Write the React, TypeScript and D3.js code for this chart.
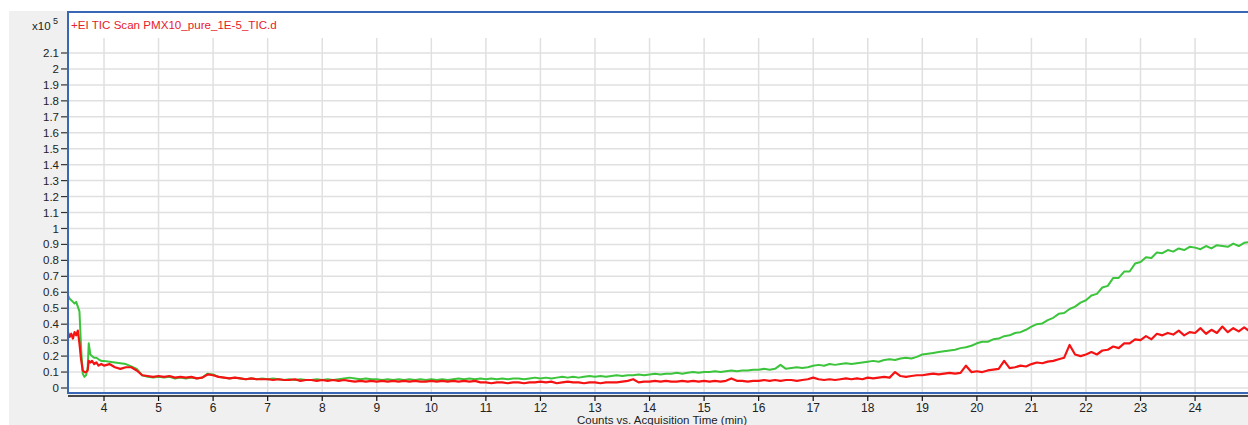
import React from 'react'
import * as d3 from 'd3'

// TIC traces, intensity in units of 1e5 counts

// fine sampling for the injection region
const headTimes = [3.34, 3.37, 3.4, 3.43, 3.46, 3.49, 3.52, 3.55, 3.58, 3.61, 3.64, 3.67, 3.7, 3.72, 3.75, 3.78, 3.82, 3.86, 3.9, 3.95]
const greenHead = [0.58, 0.56, 0.55, 0.54, 0.53, 0.54, 0.51, 0.48, 0.25, 0.09, 0.07, 0.08, 0.12, 0.28, 0.21, 0.2, 0.19, 0.19, 0.18, 0.17]
const redHead = [0.35, 0.32, 0.34, 0.31, 0.35, 0.33, 0.36, 0.28, 0.18, 0.11, 0.1, 0.1, 0.11, 0.17, 0.16, 0.17, 0.15, 0.16, 0.14, 0.15]

// 4.0 .. 25.0 min, every 0.1 min
const bodyStart = 4.0
const bodyStep = 0.1
const greenBody = [
  0.17, 0.165, 0.16, 0.155, 0.15, 0.135, 0.12, 0.08, 0.07, 0.065,
  0.07, 0.065, 0.07, 0.06, 0.065, 0.06, 0.065, 0.06, 0.065, 0.09,
  0.085, 0.07, 0.065, 0.06, 0.065, 0.06, 0.055, 0.06, 0.055, 0.06,
  0.055, 0.06, 0.055, 0.05, 0.055, 0.05, 0.055, 0.05, 0.05, 0.055,
  0.05, 0.055, 0.05, 0.055, 0.06, 0.065, 0.06, 0.055, 0.06, 0.055,
  0.055, 0.05, 0.055, 0.05, 0.055, 0.05, 0.055, 0.05, 0.055, 0.05,
  0.055, 0.05, 0.055, 0.05, 0.055, 0.06, 0.055, 0.06, 0.055, 0.06,
  0.055, 0.06, 0.055, 0.06, 0.055, 0.06, 0.06, 0.055, 0.06, 0.065,
  0.06, 0.065, 0.06, 0.065, 0.07, 0.065, 0.07, 0.065, 0.07, 0.075,
  0.07, 0.075, 0.07, 0.075, 0.08, 0.075, 0.08, 0.08, 0.085, 0.08,
  0.085, 0.09, 0.085, 0.09, 0.09, 0.095, 0.09, 0.095, 0.1, 0.095,
  0.1, 0.1, 0.105, 0.1, 0.105, 0.11, 0.105, 0.11, 0.11, 0.115,
  0.115, 0.12, 0.115, 0.12, 0.145, 0.12, 0.125, 0.13, 0.125, 0.13,
  0.14, 0.145, 0.14, 0.15, 0.145, 0.15, 0.155, 0.15, 0.155, 0.16,
  0.165, 0.17, 0.165, 0.175, 0.18, 0.175, 0.185, 0.19, 0.185, 0.195,
  0.21, 0.215, 0.22, 0.225, 0.23, 0.235, 0.24, 0.25, 0.255, 0.265,
  0.28, 0.29, 0.29, 0.305, 0.31, 0.325, 0.33, 0.345, 0.35, 0.365,
  0.385, 0.4, 0.405, 0.425, 0.44, 0.465, 0.47, 0.495, 0.51, 0.535,
  0.55, 0.58, 0.59, 0.63, 0.64, 0.69, 0.69, 0.73, 0.73, 0.78,
  0.79, 0.82, 0.815, 0.85, 0.845, 0.865, 0.855, 0.875, 0.865, 0.885,
  0.88, 0.87, 0.89, 0.875, 0.895, 0.89, 0.885, 0.905, 0.89, 0.91,
  0.915,
]
const redBody = [
  0.14, 0.15, 0.13, 0.12, 0.13, 0.13, 0.11, 0.08, 0.075, 0.07,
  0.075, 0.07, 0.075, 0.065, 0.07, 0.065, 0.07, 0.06, 0.065, 0.085,
  0.08, 0.07, 0.065, 0.06, 0.065, 0.06, 0.055, 0.06, 0.055, 0.055,
  0.055, 0.05, 0.055, 0.05, 0.05, 0.055, 0.045, 0.05, 0.05, 0.045,
  0.05, 0.045, 0.05, 0.045, 0.05, 0.045, 0.04, 0.045, 0.04, 0.045,
  0.04, 0.045, 0.04, 0.045, 0.04, 0.045, 0.04, 0.045, 0.04, 0.04,
  0.045, 0.04, 0.045, 0.04, 0.045, 0.04, 0.045, 0.04, 0.045, 0.035,
  0.035, 0.03, 0.035, 0.035, 0.03, 0.035, 0.035, 0.03, 0.035, 0.035,
  0.04, 0.035, 0.04, 0.03, 0.035, 0.04, 0.035, 0.035, 0.03, 0.035,
  0.035, 0.03, 0.035, 0.035, 0.035, 0.04, 0.045, 0.055, 0.035, 0.04,
  0.04, 0.045, 0.04, 0.045, 0.04, 0.04, 0.045, 0.04, 0.045, 0.04,
  0.045, 0.04, 0.045, 0.04, 0.045, 0.06, 0.045, 0.045, 0.04, 0.045,
  0.045, 0.05, 0.045, 0.05, 0.045, 0.05, 0.05, 0.045, 0.05, 0.055,
  0.065, 0.055, 0.05, 0.055, 0.05, 0.055, 0.06, 0.055, 0.06, 0.055,
  0.065, 0.06, 0.065, 0.07, 0.065, 0.1, 0.075, 0.07, 0.075, 0.08,
  0.08, 0.085, 0.09, 0.085, 0.09, 0.095, 0.09, 0.095, 0.14, 0.1,
  0.105, 0.1, 0.11, 0.115, 0.12, 0.17, 0.125, 0.13, 0.14, 0.135,
  0.15, 0.16, 0.155, 0.165, 0.17, 0.18, 0.19, 0.27, 0.21, 0.2,
  0.21, 0.225, 0.21, 0.235, 0.24, 0.26, 0.25, 0.28, 0.28, 0.305,
  0.3, 0.325, 0.305, 0.34, 0.33, 0.345, 0.335, 0.36, 0.33, 0.35,
  0.345, 0.375, 0.34, 0.365, 0.345, 0.385, 0.35, 0.375, 0.355, 0.38,
  0.355,
]

const xTicks = [4, 5, 6, 7, 8, 9, 10, 11, 12, 13, 14, 15, 16, 17, 18, 19, 20, 21, 22, 23, 24]
const yTicks = [0, 0.1, 0.2, 0.3, 0.4, 0.5, 0.6, 0.7, 0.8, 0.9, 1, 1.1, 1.2, 1.3, 1.4, 1.5, 1.6, 1.7, 1.8, 1.9, 2, 2.1]

const W = 1248
const H = 425
const font = '"Liberation Sans", Arial, sans-serif'

function toPoints(head: number[], body: number[]): [number, number][] {
  const pts: [number, number][] = headTimes.map((t, i) => [t, head[i]])
  body.forEach((v, i) => pts.push([bodyStart + i * bodyStep, v]))
  return pts
}

export default function App() {
  const plotL = 68
  const plotT = 12
  const plotR = 1250
  const plotB = 393

  const x = d3.scaleLinear().domain([3.34, 24.97]).range([plotL, W])
  const y = d3.scaleLinear().domain([0, 2.1]).range([388, 53])

  const line = d3.line<[number, number]>().x(d => x(d[0])).y(d => y(d[1]))
  const green = line(toPoints(greenHead, greenBody)) || ''
  const red = line(toPoints(redHead, redBody)) || ''

  return (
    <svg width={W} height={H} style={{ position: 'absolute', left: 0, top: 0, fontFamily: font }}>
      <defs>
        <clipPath id="plotClip">
          <rect x={plotL + 1} y={plotT + 1} width={plotR - plotL} height={plotB - plotT - 2} />
        </clipPath>
      </defs>
      <rect width={W} height={H} fill="#ffffff" />
      <rect x={9} y={11} width={W - 9} height={H - 11} fill="#f0f0f0" />
      <rect x={plotL} y={plotT} width={plotR - plotL} height={plotB - plotT} fill="#ffffff" />

      {/* grid */}
      {yTicks.map(t => (
        <line key={'gy' + t} x1={plotL} x2={W} y1={y(t)} y2={y(t)} stroke="#e0e0e0" strokeWidth={1.5} />
      ))}
      {xTicks.map(t => (
        <line key={'gx' + t} x1={x(t)} x2={x(t)} y1={38} y2={plotB} stroke="#e0e0e0" strokeWidth={1.5} />
      ))}

      <g clipPath="url(#plotClip)">
        <path d={green} fill="none" stroke="#3cc43c" strokeWidth={2} strokeLinejoin="round" />
        <path d={red} fill="none" stroke="#f51212" strokeWidth={2.2} strokeLinejoin="round" />
      </g>

      {/* frame */}
      <rect x={plotL} y={plotT} width={plotR - plotL} height={plotB - plotT} fill="none" stroke="#3a67b5" strokeWidth={2} />

      {/* y axis */}
      {yTicks.map(t => (
        <g key={'ty' + t}>
          <line x1={61} x2={67} y1={y(t)} y2={y(t)} stroke="#333" strokeWidth={1.2} />
          <text x={59} y={y(t)} dy="0.35em" textAnchor="end" fontSize={11.5} fill="#222">{String(t)}</text>
        </g>
      ))}
      <text x={32} y={30} fontSize={11.5} fill="#222">x10</text>
      <text x={53} y={24} fontSize={9} fill="#222">5</text>

      {/* x axis */}
      <line x1={plotL} x2={W} y1={396} y2={396} stroke="#111" strokeWidth={1.5} />
      {xTicks.map(t => (
        <g key={'tx' + t}>
          <line x1={x(t)} x2={x(t)} y1={396} y2={401} stroke="#111" strokeWidth={1.2} />
          <text x={x(t)} y={412} textAnchor="middle" fontSize={12} fill="#222">{t}</text>
        </g>
      ))}
      <text x={662} y={424} textAnchor="middle" fontSize={11.5} fill="#222">Counts vs. Acquisition Time (min)</text>

      <text x={71} y={29} fontSize={11.6} fill="#e8202a">+EI TIC Scan PMX10_pure_1E-5_TIC.d</text>
    </svg>
  )
}
